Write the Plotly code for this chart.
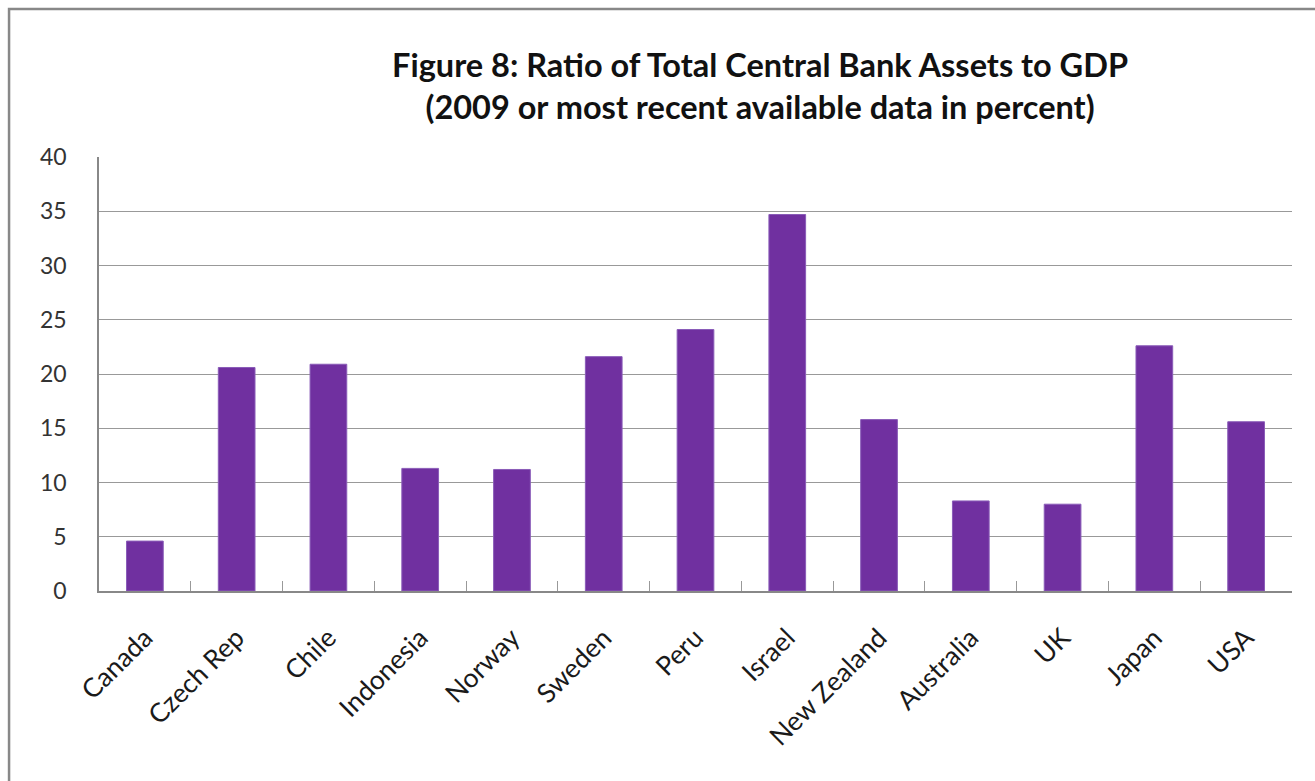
import plotly.graph_objects as go

countries = ["Canada", "Czech Rep", "Chile", "Indonesia", "Norway", "Sweden", "Peru",
             "Israel", "New Zealand", "Australia", "UK", "Japan", "USA"]
ratios = [4.6, 20.6, 20.9, 11.3, 11.2, 21.6, 24.1, 34.7, 15.8, 8.3, 8.0, 22.6, 15.6]
y_ticks = [0, 5, 10, 15, 20, 25, 30, 35, 40]

FONT = "Lato, 'Open Sans', sans-serif"

fig = go.Figure(go.Bar(
    x=countries, y=ratios,
    marker=dict(color="#7030A0", line=dict(color="#8a5cb8", width=1)),
))

fig.update_layout(
    width=1315, height=781,
    margin=dict(l=99, r=23, t=157, b=190),
    paper_bgcolor="white", plot_bgcolor="white",
    bargap=0.6, showlegend=False,
    font=dict(family=FONT, color="#222"),
    title=dict(
        text="Figure 8: Ratio of Total Central Bank Assets to GDP<br>(2009 or most recent available data in percent)",
        x=0.578, xanchor="center", y=0.902, yanchor="middle",
        font=dict(family=FONT, size=32.5, color="#111", weight="bold"),
    ),
    xaxis=dict(
        tickangle=-45, tickfont=dict(size=26.5, color="#1a1a1a"),
        showline=True, linecolor="#888", linewidth=1.5,
        ticks="inside", ticklen=10, tickcolor="#999",
        tickson="boundaries", showgrid=False, ticklabelstandoff=19,
    ),
    yaxis=dict(
        range=[0, 40], tickvals=y_ticks, tickfont=dict(size=23, color="#333"),
        showgrid=True, gridcolor="#999", gridwidth=1.2,
        showline=True, linecolor="#888", linewidth=1.5,
        ticks="", ticklabelstandoff=26, zeroline=False,
    ),
    shapes=[dict(type="rect", xref="paper", yref="paper",
                 x0=-0.0754, x1=1.2, y0=-0.6, y1=1.341, layer="below",
                 line=dict(color="#888", width=2.5))],
)

fig.write_html("out.html")
